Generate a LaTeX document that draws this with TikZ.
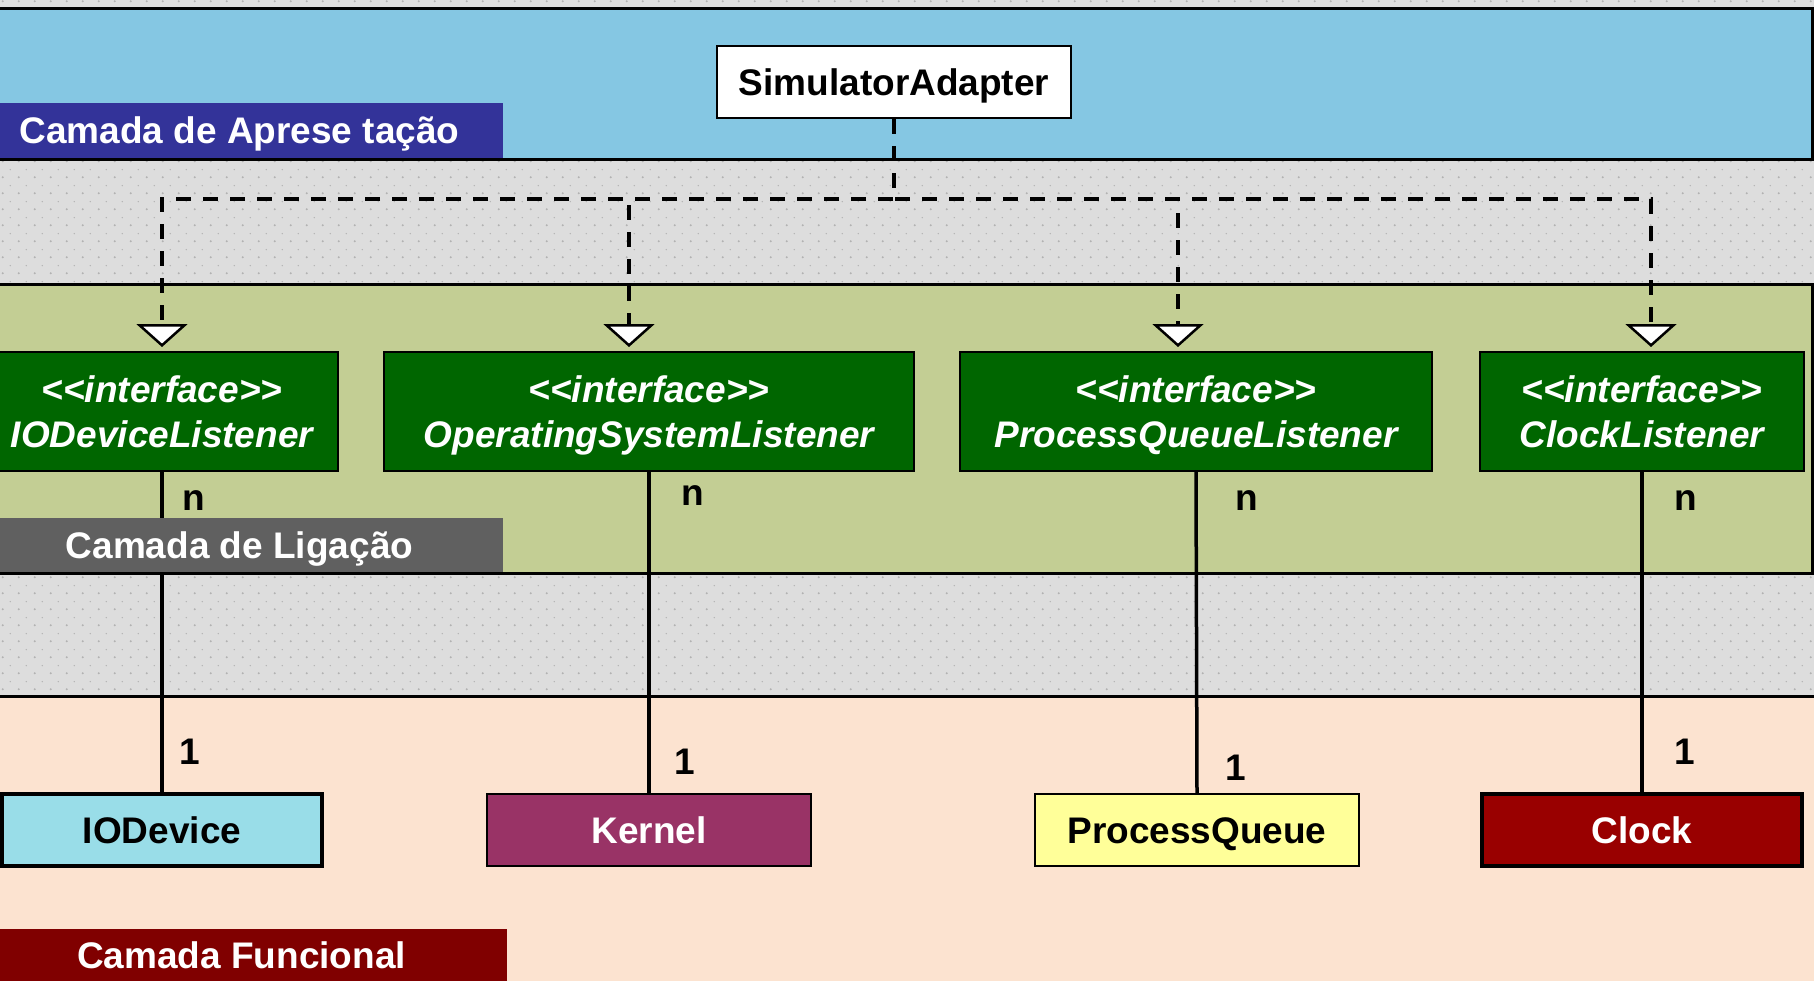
\documentclass[tikz,border=0pt]{standalone}
\usepackage{fontspec}
\setmainfont{Liberation Sans}
\usetikzlibrary{arrows.meta,patterns.meta}

\definecolor{graybg}{HTML}{DDDDDD}
\definecolor{dotgray}{HTML}{B2B2B2}
\definecolor{bandblue}{HTML}{85C7E3}
\definecolor{bandgreen}{HTML}{C3CE94}
\definecolor{bandpeach}{HTML}{FCE3D0}
\definecolor{labblue}{HTML}{333399}
\definecolor{labgray}{HTML}{606060}
\definecolor{labred}{HTML}{800000}
\definecolor{ifgreen}{HTML}{006600}
\definecolor{iodfill}{HTML}{99DDE8}
\definecolor{kernfill}{HTML}{993366}
\definecolor{pqfill}{HTML}{FFFF99}
\definecolor{clkfill}{HTML}{990000}

% staggered dot raster for the separator strips
\tikzdeclarepattern{
  name=griddots,
  type=uncolored,
  bounding box={(0pt,0pt) and (16pt,16pt)},
  tile size={(16pt,16pt)},
  code={
    \fill (4pt,4pt) circle[radius=1.1pt];
    \fill (12pt,12pt) circle[radius=0.8pt];
  }
}

\newcommand{\bigbold}{\bfseries\fontsize{37}{44}\selectfont}
\newcommand{\ifstrut}{\rule[-8pt]{0pt}{42pt}}
\newcommand{\stereo}{<\kern0pt<interface>\kern0pt>}

\begin{document}
\begin{tikzpicture}[x=1pt,y=-1pt,
  band/.style={draw=black},
  layerlabel/.style={inner sep=0pt, minimum height=55pt, text=white,
    font=\bigbold, text height=26.5pt, text depth=0pt},
  iface/.style={draw=black, line width=2pt, fill=ifgreen, text=white,
    font=\bfseries\itshape\fontsize{37}{45}\selectfont, align=center,
    minimum height=119pt, inner sep=0pt},
  cls/.style={draw=black, line width=2pt, minimum height=72pt,
    minimum width=324pt, inner sep=0pt, font=\bigbold,
    text height=26.5pt, text depth=0pt},
  thickcls/.style={cls, line width=4pt, minimum width=320pt},
  mult/.style={font=\bigbold, inner sep=0pt, anchor=base},
  realize/.style={line width=3.5pt, dash pattern=on 15pt off 12pt,
    -{Triangle[open, fill=white, length=23pt, width=51pt, line width=2.5pt]},
    shorten >=4pt},
  assoc/.style={line width=3.5pt}
]
\useasboundingbox (0,0) rectangle (1814,980);

% background with dot raster
\fill[graybg] (0,0) rectangle (1814,980);
\fill[pattern=griddots, pattern color=dotgray] (0,0) rectangle (1814,980);

% layer bands
\draw[band, fill=bandblue, line width=3pt] (-10,8.5) rectangle (1812,159.5);
\draw[band, fill=bandgreen, line width=3pt] (-10,284) rectangle (1812,573.5);
\fill[bandpeach] (-10,696) rectangle (1830,990);
\draw[line width=3pt] (-10,696) -- (1830,696);

% presentation layer title
\node[layerlabel, fill=labblue, minimum width=527pt] (lapres) at (239.5,130.5)
  {Camada de Aprese ta\c{c}\~ao};

% classes and interfaces
\node[cls, fill=white, minimum width=354pt] (sa) at (894,82) {SimulatorAdapter};

\node[iface, minimum width=352pt] (iol) at (162,411.5)
  {\ifstrut\stereo\\\ifstrut IODeviceListener};
\node[iface, minimum width=530pt] (osl) at (649,411.5)
  {\ifstrut\stereo\\\ifstrut OperatingSystemListener};
\node[iface, minimum width=472pt] (pql) at (1196,411.5)
  {\ifstrut\stereo\\\ifstrut ProcessQueueListener};
\node[iface, minimum width=324pt] (cll) at (1642,411.5)
  {\ifstrut\stereo\\\ifstrut ClockListener};

\node[thickcls, fill=iodfill] (iod) at (162,830) {IODevice};
\node[cls, fill=kernfill, text=white] (kern) at (649,830) {Kernel};
\node[cls, fill=pqfill] (pq) at (1197,830) {ProcessQueue};
\node[thickcls, fill=clkfill, text=white] (clk) at (1642,830) {Clock};

% realization connectors from the adapter to each listener
\coordinate (hub) at (894,199);
\draw[realize] (sa.south) -- (hub) -| (iol.north);
\draw[realize] (sa.south) -- (hub) -| ([xshift=-20pt]osl.north);
\draw[realize] (sa.south) -- (hub) -| ([xshift=-18pt]pql.north);
\draw[realize] (sa.south) -- (hub) -| ([xshift=9pt]cll.north);

% associations listener -- functional class
\draw[assoc] (iol.south) -- (iod.north);
\draw[assoc] (osl.south) -- (kern.north);
\draw[assoc] (pql.south) -- (pq.north);
\draw[assoc] (cll.south) -- (clk.north);

% multiplicities
\node[mult] (m1n) at (194,510) {n};
\node[mult] (m2n) at (693,505) {n};
\node[mult] (m3n) at (1247,510) {n};
\node[mult] (m4n) at (1686,510) {n};
\node[mult] (m1o) at (190,764) {1};
\node[mult] (m2o) at (685,774) {1};
\node[mult] (m3o) at (1236,780) {1};
\node[mult] (m4o) at (1685,764) {1};

% link and functional layer titles
\node[layerlabel, fill=labgray, minimum width=527pt, minimum height=54pt] (llig) at (239.5,545)
  {Camada de Liga\c{c}\~ao};
\node[layerlabel, fill=labred, minimum width=531pt, minimum height=52pt] (lfunc) at (241.5,955)
  {Camada Funcional};
\end{tikzpicture}
\end{document}
